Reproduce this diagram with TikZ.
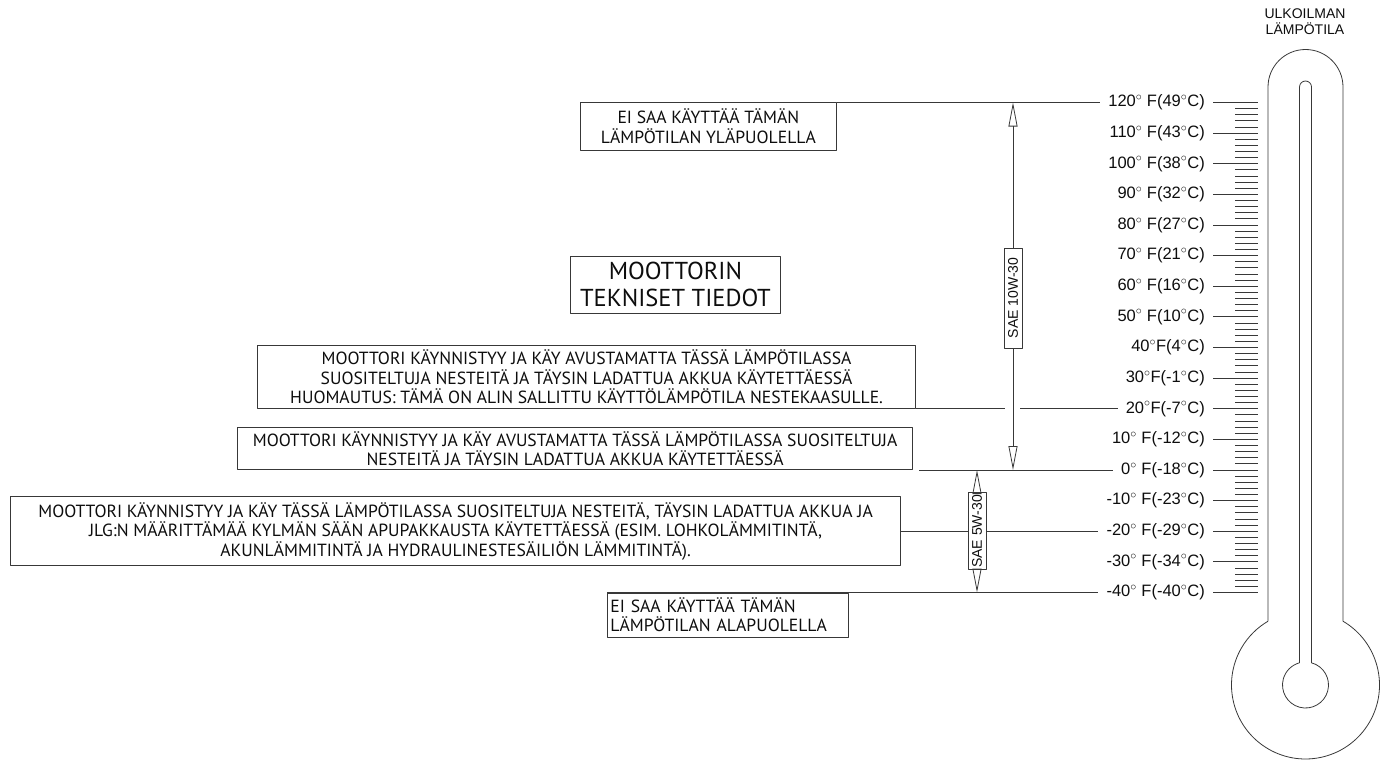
\documentclass[tikz,border=0pt]{standalone}
\usepackage{fontspec}
\setmainfont{Liberation Sans}
\newfontfamily\boxfont{PT Sans}
\usetikzlibrary{arrows.meta,calc}
\definecolor{linegray}{gray}{0.22}
\definecolor{textgray}{gray}{0.05}
\newcommand{\dg}{$^{\circ}$}

\begin{document}
\begin{tikzpicture}[x=1pt,y=-1pt,line join=round,
  infobox/.style={draw=linegray,line width=0.8pt,text=textgray,inner sep=0pt,align=center,
    font=\boxfont\fontsize{17.6}{19.5}\selectfont},
  templbl/.style={anchor=east,inner xsep=8pt,inner ysep=2pt,text=textgray,font=\fontsize{16.5}{18}\selectfont},
  saebox/.style={draw=linegray,line width=0.8pt,rotate=90,inner xsep=2pt,inner ysep=4pt,text=textgray,
    font=\fontsize{14}{15}\selectfont},
  dimarrow/.style={-{Triangle[open,length=24pt,width=9pt]},linegray,line width=0.8pt},
  level/.style={linegray,line width=0.8pt},
  tick/.style={linegray,line width=0.8pt}]
  \useasboundingbox (0,0) rectangle (1385,760);

  % thermometer
  \node[align=center,text=textgray,font=\fontsize{14}{16}\selectfont] (otsake) at (1305,22) {ULKOILMAN\\LÄMPÖTILA};
  \draw[level] (1268,621.2) -- (1268,87) arc[start angle=180,end angle=360,radius=37.5]
    -- (1343,621.2) arc[start angle=-59.55,end angle=239.55,radius=74];
  \draw[level] (1299.5,662.8) -- (1299.5,87) arc[start angle=180,end angle=360,radius=6]
    -- (1311.5,662.8) arc[start angle=-74.87,end angle=254.87,radius=23];

  \foreach \f/\txt in {120/{120\dg\ F(49\dg C)},110/{110\dg\ F(43\dg C)},100/{100\dg\ F(38\dg C)},
      90/{90\dg\ F(32\dg C)},80/{80\dg\ F(27\dg C)},70/{70\dg\ F(21\dg C)},60/{60\dg\ F(16\dg C)},
      50/{50\dg\ F(10\dg C)},40/{40\dg F(4\dg C)},30/{30\dg F(-1\dg C)},20/{20\dg F(-7\dg C)},
      10/{10\dg\ F(-12\dg C)},0/{0\dg\ F(-18\dg C)},-10/{-10\dg\ F(-23\dg C)},-20/{-20\dg\ F(-29\dg C)},
      -30/{-30\dg\ F(-34\dg C)},-40/{-40\dg\ F(-40\dg C)}}
    \node[templbl] (t\f) at (1213,{470-3.0625*\f}) {\txt};
  \foreach \f in {-38,-36,...,118}
    \draw[tick] (1235,{470-3.0625*\f}) -- (1258,{470-3.0625*\f});
  \foreach \f in {-40,-30,...,120}
    \draw[tick] (t\f.east) -- (1258,{470-3.0625*\f});

  % boxes
  \node[infobox,anchor=north west,minimum width=256,minimum height=47] (ylaraja) at (580,102.5)
    {EI SAA KÄYTTÄÄ TÄMÄN\\LÄMPÖTILAN YLÄPUOLELLA};
  \node[infobox,anchor=north west,minimum width=210,minimum height=57,
    font=\boxfont\fontsize{24.5}{27}\selectfont] (tiedot) at (570,256) {MOOTTORIN\\TEKNISET TIEDOT};
  \node[infobox,anchor=south east,minimum width=658,minimum height=63] (neste) at (916,408.75)
    {MOOTTORI KÄYNNISTYY JA KÄY AVUSTAMATTA TÄSSÄ LÄMPÖTILASSA\\
     SUOSITELTUJA NESTEITÄ JA TÄYSIN LADATTUA AKKUA KÄYTETTÄESSÄ\\
     HUOMAUTUS: TÄMÄ ON ALIN SALLITTU KÄYTTÖLÄMPÖTILA NESTEKAASULLE.};
  \node[infobox,anchor=south east,minimum width=675,minimum height=42] (avustamatta) at (913,470)
    {MOOTTORI KÄYNNISTYY JA KÄY AVUSTAMATTA TÄSSÄ LÄMPÖTILASSA SUOSITELTUJA\\
     NESTEITÄ JA TÄYSIN LADATTUA AKKUA KÄYTETTÄESSÄ};
  \node[infobox,anchor=east,minimum width=890,minimum height=69] (apupakkaus) at (901,531.25)
    {MOOTTORI KÄYNNISTYY JA KÄY TÄSSÄ LÄMPÖTILASSA SUOSITELTUJA NESTEITÄ, TÄYSIN LADATTUA AKKUA JA\\
     JLG:N MÄÄRITTÄMÄÄ KYLMÄN SÄÄN APUPAKKAUSTA KÄYTETTÄESSÄ (ESIM. LOHKOLÄMMITINTÄ,\\
     AKUNLÄMMITINTÄ JA HYDRAULINESTESÄILIÖN LÄMMITINTÄ).};
  \node[infobox,anchor=north west,align=left,text width=235,inner xsep=3pt,minimum height=44] (alaraja)
    at (607,592.5) {EI SAA KÄYTTÄÄ TÄMÄN\\LÄMPÖTILAN ALAPUOLELLA};

  % oil grades
  \node[saebox,minimum width=100] (sae10) at (1013,298) {SAE 10W-30};
  \node[saebox,minimum width=74] (sae5) at (977,531.25) {SAE 5W-30};
  \draw[dimarrow] (sae10) -- (sae10 |- t120.west);
  \draw[dimarrow] (sae10) -- (sae10 |- t0.west);
  \draw[dimarrow] (sae5) -- (sae5 |- t0.west);
  \draw[dimarrow] (sae5) -- (sae5 |- t-40.west);

  % temperature levels
  \draw[level] (ylaraja.north east) -- (t120.west);
  \draw[level] (neste.south east) -- ($(sae10 |- t20.west)+(-8,0)$);
  \draw[level] ($(sae10 |- t20.west)+(7,0)$) -- (t20.west);
  \draw[level] ($(avustamatta.south east)+(6,0)$) -- (t0.west);
  \draw[level] (apupakkaus.east) -- (sae5);
  \draw[level] (sae5) -- (t-20.west);
  \draw[level] (alaraja.north west) -- (t-40.west);
\end{tikzpicture}
\end{document}
